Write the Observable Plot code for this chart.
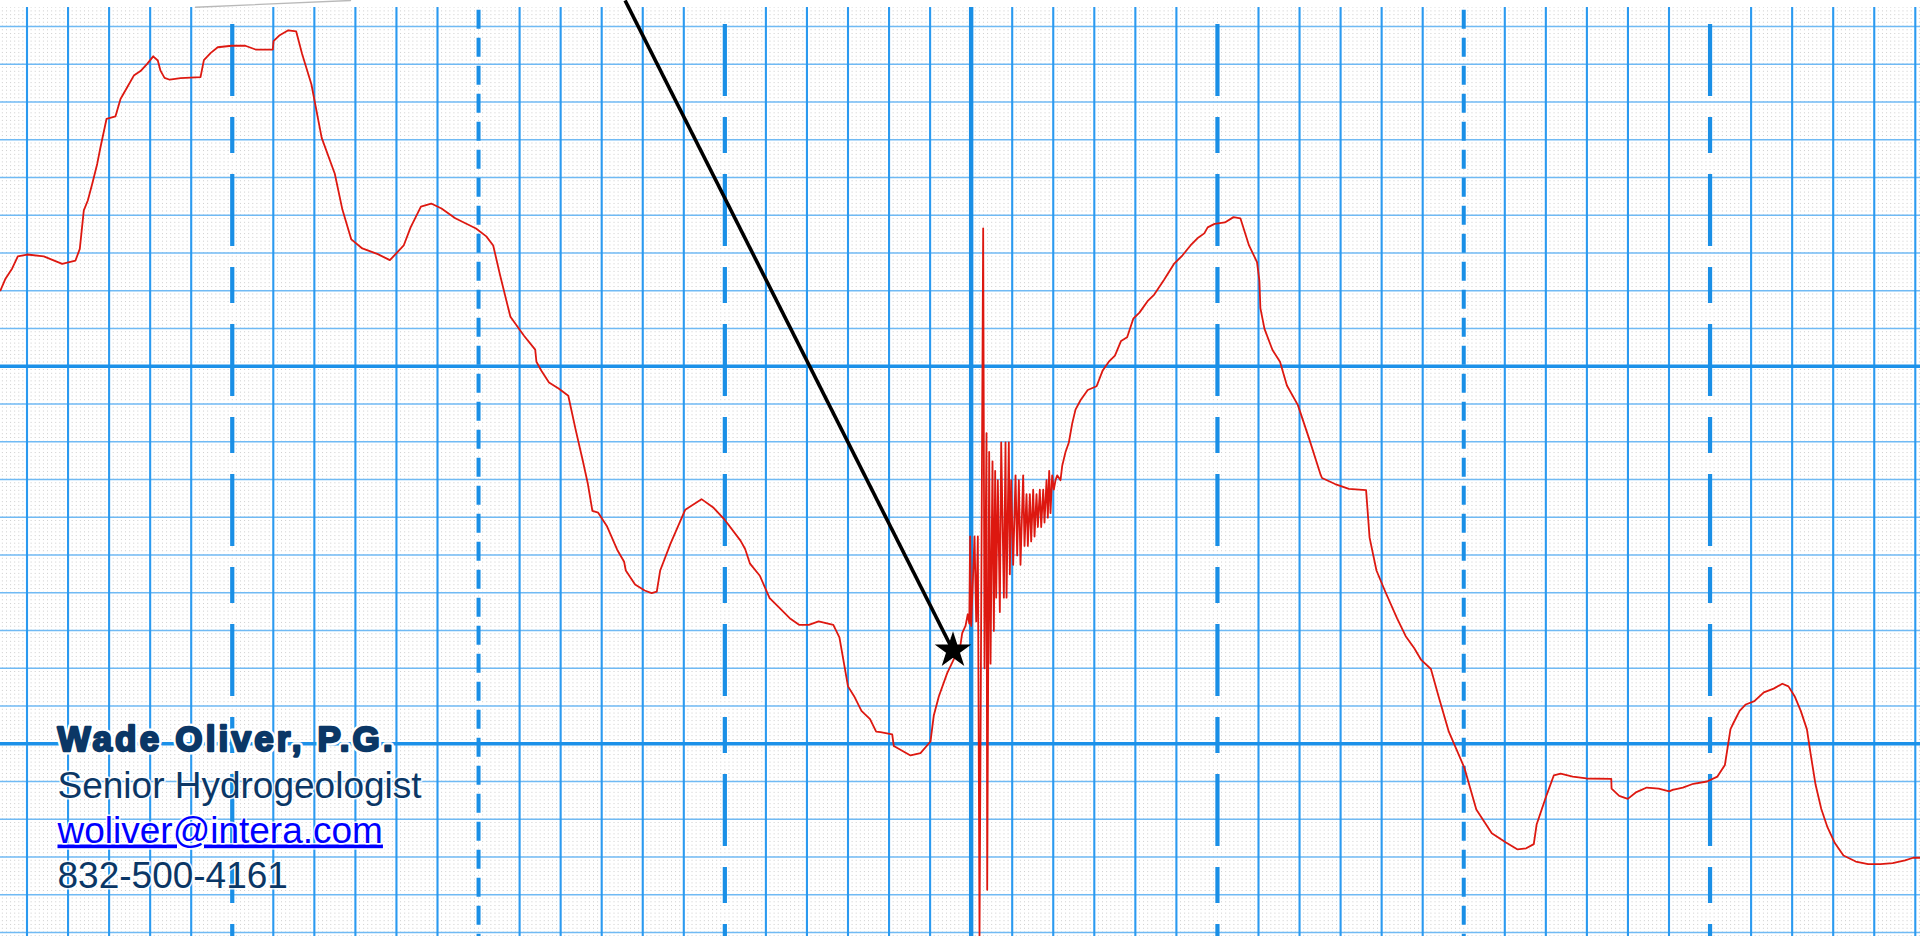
<!DOCTYPE html>
<html>
<head>
<meta charset="utf-8">
<script src="https://cdn.jsdelivr.net/npm/d3@7"></script>
<script src="https://cdn.jsdelivr.net/npm/@observablehq/plot@0.6"></script>
<style>
  html, body { margin: 0; padding: 0; background: #fff; overflow: hidden; }
  #chart svg { display: block; }
</style>
</head>
<body>
<div id="chart"></div>
<script>
// ---- recorded trace (x in grid columns, y in grid rows) ----
const time = [
  -0.646,-0.524,-0.361,-0.224,0.005,0.409,0.857,1.181,1.286,1.384,1.481,1.588,1.71,1.79,1.937,2.156,2.278,2.441,2.602,2.765,
  2.928,3.074,3.186,3.252,3.35,3.479,3.739,4.227,4.309,4.477,4.646,4.982,5.318,5.569,5.988,6.005,6.156,6.365,6.558,6.702,
  6.928,7.179,7.498,7.683,7.9,8.168,8.546,8.84,9.177,9.345,9.596,9.846,10.097,10.433,10.938,11.189,11.357,11.525,11.776,12.112,
  12.38,12.41,12.531,12.716,12.95,13.186,13.369,13.537,13.664,13.773,13.915,14.124,14.377,14.546,14.587,14.813,15.047,15.216,15.342,15.425,
  15.676,16.036,16.431,16.726,16.977,17.381,17.494,17.613,17.852,18.091,18.3,18.598,18.807,19.046,19.285,19.642,19.791,20.0,20.149,20.328,
  20.537,20.686,20.792,21.077,21.116,21.523,21.766,22.01,22.09,22.212,22.416,22.553,22.74,22.782,22.862,22.918,22.955,22.975,23.001,23.082,
  23.123,23.163,23.204,23.293,23.326,23.374,23.391,23.439,23.472,23.52,23.553,23.585,23.61,23.65,23.699,23.732,23.797,23.837,23.862,23.918,
  23.943,23.975,24.024,24.081,24.121,24.162,24.202,24.267,24.3,24.349,24.381,24.43,24.462,24.511,24.544,24.592,24.625,24.673,24.706,24.755,
  24.787,24.836,24.868,24.901,24.933,24.974,25.014,25.055,25.096,25.177,25.218,25.299,25.38,25.461,25.542,25.664,25.84,26.056,26.205,26.354,
  26.503,26.652,26.8,26.95,27.1,27.31,27.46,27.7,27.94,28.15,28.343,28.512,28.679,28.762,28.93,29.181,29.391,29.559,29.769,29.964,
  30.022,30.046,30.146,30.341,30.524,30.692,30.96,31.237,31.515,31.547,31.866,32.202,32.621,32.706,32.874,33.084,33.376,33.586,33.795,33.963,
  34.2,34.382,34.636,35.013,35.306,35.683,36.019,36.312,36.521,36.706,36.775,37.025,37.193,37.361,37.654,37.99,38.594,38.601,38.787,38.996,
  39.206,39.459,39.751,40.005,40.088,40.338,40.592,40.926,41.179,41.362,41.498,41.57,41.72,41.87,42.08,42.31,42.55,42.76,42.91,43.06,
  43.21,43.36,43.45,43.57,43.71,43.86,44.04,44.25,44.55,44.85,45.15,45.45,45.75,45.95,46.13
];
const level = [
  12.01,12.32,12.59,12.91,12.96,12.91,12.71,12.80,13.11,14.13,14.39,14.83,15.36,15.8,16.55,16.62,17.08,17.39,17.70,17.82,
  18.01,18.21,18.10,17.83,17.64,17.59,17.63,17.66,18.11,18.30,18.45,18.49,18.49,18.39,18.39,18.61,18.77,18.90,18.87,18.27,
  17.47,16.05,15.10,14.15,13.36,13.12,12.97,12.81,13.20,13.68,14.23,14.31,14.18,13.92,13.65,13.44,13.20,12.41,11.31,10.80,
  10.44,10.12,9.88,9.57,9.41,9.22,8.30,7.51,6.88,6.17,6.12,5.77,5.14,4.82,4.59,4.22,4.06,3.99,4.03,4.59,
  5.30,6.20,6.48,6.25,5.96,5.38,5.16,4.77,4.45,3.86,3.63,3.31,3.15,3.15,3.24,3.15,2.82,1.52,1.26,0.87,
  0.65,0.32,0.31,0.25,-0.06,-0.31,-0.25,0.06,0.75,1.25,1.87,2.18,2.62,2.93,3.12,3.43,3.18,5.49,3.12,5.49,
  3.24,5.49,-5.1,13.65,2.0,8.23,-3.87,7.73,2.12,7.48,2.99,7.23,3.87,6.98,3.49,7.98,3.87,7.98,3.87,7.98,
  4.49,6.98,4.74,7.11,4.99,6.98,4.74,7.11,5.24,6.61,5.24,6.61,5.36,6.73,5.49,6.61,5.74,6.73,5.74,6.73,
  5.86,6.98,5.99,7.23,6.11,7.11,6.73,6.98,7.11,6.98,7.36,7.73,7.98,8.48,8.85,9.10,9.37,9.47,9.89,10.12,
  10.28,10.67,10.77,11.26,11.42,11.74,11.90,12.29,12.71,12.94,13.20,13.39,13.52,13.68,13.77,13.81,13.95,13.92,13.20,12.76,
  12.26,11.54,10.99,10.43,10.12,9.49,8.97,8.07,7.12,7.04,6.88,6.75,6.72,5.46,4.59,4.04,3.32,2.85,2.53,2.22,
  1.98,1.27,0.32,-0.63,-1.74,-2.37,-2.61,-2.80,-2.77,-2.66,-2.14,-1.34,-0.84,-0.79,-0.87,-0.92,-0.93,-1.19,-1.38,-1.46,
  -1.28,-1.16,-1.19,-1.26,-1.22,-1.16,-1.06,-1.00,-0.87,-0.56,0.39,0.55,0.87,1.04,1.13,1.36,1.46,1.59,1.52,1.26,
  0.87,0.38,-0.27,-1.08,-1.73,-2.21,-2.63,-2.96,-3.12,-3.19,-3.19,-3.16,-3.09,-3.02,-3.02
];

// ---- annotation: pointer line ending at a star ----
const pointerStart = [14.57, 19.69];
const pointerEnd   = [22.558, 2.47];
const edgeStreak   = [[4.105, 19.511], [7.88, 19.689]];

// ---- graph-paper rulings (grid columns / rows) ----
const plainCols = [0,1,2,3,4,6,7,8,9,10,12,13,14,15,16,18,19,20,21,22,24,25,26,27,28,30,31,32,33,34,36,37,38,39,40,42,43,44,45,46];
const longShortCols = [5,17,29,41];
const shortDashCols = [11,35];
const heavyCols = [23];
const plainRows = [-5,-4,-3,-2,-1,1,2,3,4,5,6,7,8,9,11,12,13,14,15,16,17,18,19];
const heavyRows = [0,10];
const minorCols = d3.range(-6, 462).map(k => k / 10);

// ---- contact block ----
const nameText = "Wade Oliver, P.G.";
const titleText = "Senior Hydrogeologist";
const emailText = "woliver@intera.com";
const phoneText = "832-500-4161";

const trace = time.map((t, i) => ({t, v: level[i]}));
const navy = "#0b3766";
const font = "Liberation Sans, Arial, Helvetica, sans-serif";

const plot = Plot.plot({
  width: 1920,
  height: 936,
  marginTop: 7,
  marginRight: 0,
  marginBottom: 0,
  marginLeft: 0,
  x: {domain: [-0.6456, 46.1267], axis: null},
  y: {domain: [-5.106, 19.5033], axis: null},
  style: {background: "#ffffff", overflow: "hidden"},
  marks: [
    // fine dotted background
    Plot.ruleX(minorCols, {stroke: "#cdcdcd", strokeWidth: 1, strokeDasharray: "1,2.775", strokeDashoffset: 0.375}),
    // rulings
    Plot.ruleY(plainRows, {stroke: "#70baf4", strokeWidth: 1.6}),
    Plot.ruleX(plainCols, {stroke: "#2b9af0", strokeWidth: 2.1}),
    Plot.ruleY(heavyRows, {stroke: "#1c91e9", strokeWidth: 3.6}),
    Plot.ruleX(longShortCols, {stroke: "#1a8fe6", strokeWidth: 4.2, strokeDasharray: "72,21,36,21", strokeDashoffset: -17}),
    Plot.ruleX(shortDashCols, {stroke: "#1a8fe6", strokeWidth: 4, strokeDasharray: "19,9", strokeDashoffset: -2.7}),
    Plot.ruleX(heavyCols, {stroke: "#1a8fe6", strokeWidth: 4.4}),
    // faint streak along the top edge
    Plot.line(edgeStreak, {x: d => d[0], y: d => d[1], stroke: "#a8a8a8", strokeWidth: 1.4, strokeOpacity: 0.8}),
    // recorded trace
    Plot.line(trace, {x: "t", y: "v", stroke: "#dd1810", strokeWidth: 1.8, strokeLinejoin: "round"}),
    // pointer line and star
    Plot.link([{a: pointerStart, b: pointerEnd}], {
      x1: d => d.a[0], y1: d => d.a[1], x2: d => d.b[0], y2: d => d.b[1],
      stroke: "#000", strokeWidth: 3.6
    }),
    Plot.dot([pointerEnd], {x: d => d[0], y: d => d[1], symbol: "star", r: 11.5, fill: "#000", stroke: "none"}),
    // contact block
    Plot.text([nameText], {text: d => d, frameAnchor: "top-left", dx: 57, dy: 743, textAnchor: "start", lineAnchor: "bottom",
      fontFamily: font, fontSize: 35, fontWeight: "bold", fill: navy, stroke: "#ffffff", strokeWidth: 7, paintOrder: "stroke"}),
    Plot.text([nameText], {text: d => d, frameAnchor: "top-left", dx: 57, dy: 743, textAnchor: "start", lineAnchor: "bottom",
      fontFamily: font, fontSize: 35, fontWeight: "bold", fill: navy, stroke: navy, strokeWidth: 2.3, strokeLinejoin: "round"}),
    Plot.text([titleText], {text: d => d, frameAnchor: "top-left", dx: 57, dy: 790, textAnchor: "start", lineAnchor: "bottom",
      fontFamily: font, fontSize: 37, fill: navy, stroke: "#ffffff", strokeWidth: 3, strokeOpacity: 0.85, paintOrder: "stroke"}),
    Plot.text([emailText], {text: d => d, frameAnchor: "top-left", dx: 57, dy: 835, textAnchor: "start", lineAnchor: "bottom",
      fontFamily: font, fontSize: 37, fill: "#0000ff", stroke: "#ffffff", strokeWidth: 3, strokeOpacity: 0.85, paintOrder: "stroke"}),
    Plot.text([phoneText], {text: d => d, frameAnchor: "top-left", dx: 57, dy: 880, textAnchor: "start", lineAnchor: "bottom",
      fontFamily: font, fontSize: 37, fill: navy, stroke: "#ffffff", strokeWidth: 3, strokeOpacity: 0.85, paintOrder: "stroke"})
  ]
});

d3.select(plot).selectAll("text")
  .filter(function() { return this.textContent === nameText; })
  .style("letter-spacing", "3.2px");
d3.select(plot).selectAll("text")
  .filter(function() { return this.textContent === emailText; })
  .style("text-decoration", "underline");

document.getElementById("chart").appendChild(plot);
</script>
</body>
</html>
